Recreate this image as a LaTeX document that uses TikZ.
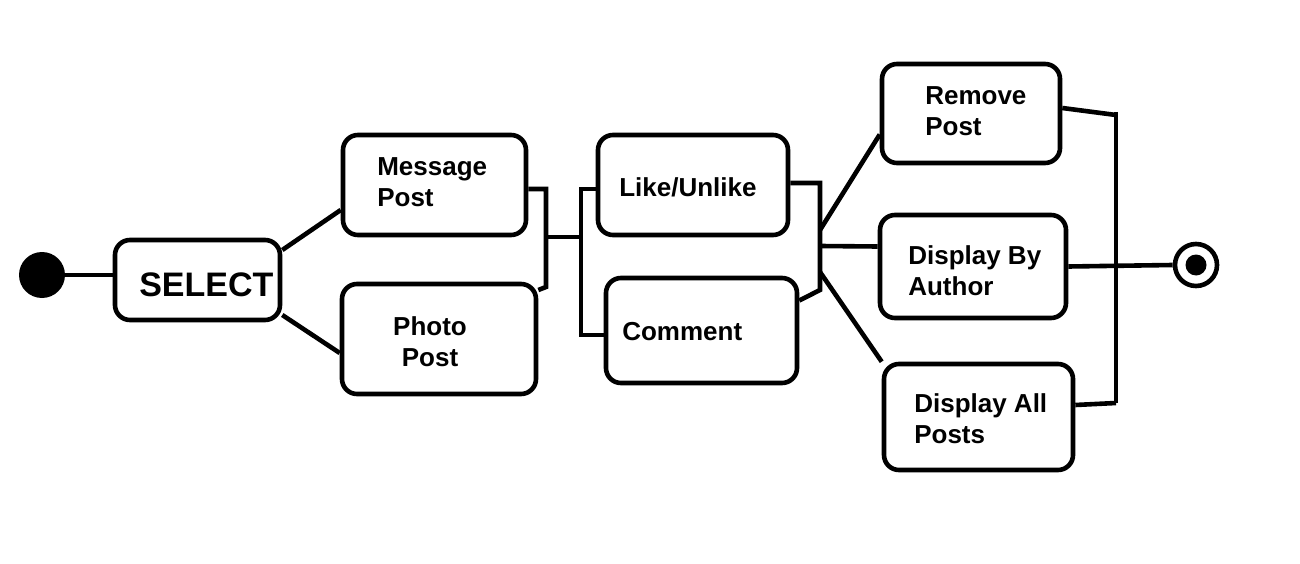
\documentclass[tikz,border=0pt]{standalone}
\usepackage{fontspec}
\setmainfont{Liberation Sans}
\begin{document}
\begin{tikzpicture}[x=1pt,y=-1pt,
  every path/.style={line width=4.6pt},
  box/.style={draw, line width=4.6pt, rounded corners=15pt, inner sep=0pt},
  lbl/.style={font=\fontsize{26}{31}\selectfont\bfseries, inner sep=0pt, align=left},
  conn/.style={draw, line width=4.6pt}]
\useasboundingbox (0,0) rectangle (1300,564);
% states
\node[box, minimum width=165pt, minimum height=80pt] (sel) at (197.5,280) {};
\node[box, minimum width=183pt, minimum height=100pt] (msg) at (434.5,185) {};
\node[box, minimum width=194pt, minimum height=110pt] (pho) at (439,339) {};
\node[box, minimum width=190pt, minimum height=100pt] (like) at (693,185) {};
\node[box, minimum width=191pt, minimum height=105pt] (com) at (701.5,330.5) {};
\node[box, minimum width=178pt, minimum height=99pt] (rem) at (971,113.5) {};
\node[box, minimum width=186pt, minimum height=103pt] (dba) at (973,266.5) {};
\node[box, minimum width=189pt, minimum height=106pt] (dap) at (978.5,417) {};
% labels
\node[lbl, anchor=west, font=\fontsize{34}{40}\selectfont\bfseries] (tsel) at (137,285) {SELECT};
\node[lbl, anchor=west] (tmsg) at (375,182) {Message\\Post};
\node[lbl, align=center] (tpho) at (430,342) {Photo\\Post};
\node[lbl, anchor=west] (tlike) at (617,187) {Like/Unlike};
\node[lbl, anchor=west] (tcom) at (620,332) {Comment};
\node[lbl, anchor=west] (trem) at (923,111) {Remove\\Post};
\node[lbl, anchor=west] (tdba) at (906,271) {Display By\\Author};
\node[lbl, anchor=west] (tdap) at (912,419) {Display All\\Posts};
% initial and final
\node[circle, fill=black, minimum size=46pt, inner sep=0pt] (init) at (42,275) {};
\node[circle, draw, line width=4.6pt, minimum size=42pt, inner sep=0pt] (fin) at (1196,265) {};
\node[circle, fill=black, minimum size=21pt, inner sep=0pt] (finc) at (1196,265) {};
% junction coordinates
\coordinate (j1) at (546,189);
\coordinate (j2) at (546,287);
\coordinate (j3) at (546,237);
\coordinate (j4) at (581,237);
\coordinate (j5) at (581,189);
\coordinate (j6) at (581,335);
\coordinate (k1) at (820,183);
\coordinate (k2) at (820,290);
\coordinate (k3) at (820,230);
\coordinate (k4) at (820,246);
\coordinate (k5) at (820,272);
\coordinate (m1) at (1116,112);
\coordinate (m2) at (1116,403);
\coordinate (m3) at (1116,115);
% connectors
\draw (init.center) -- (init.center -| sel.west);
\draw ([yshift=30pt]sel.east) -- ([yshift=-25pt]msg.west);
\draw ([yshift=-35pt]sel.east) -- ([yshift=-14pt]pho.west);
\draw[line join=miter] ([yshift=-4pt]msg.east) -- (j1) -- (j2) -- ([yshift=49pt]pho.east);
\draw (j3) -- (j4);
\draw[line join=miter] (j5 -| like.west) -- (j5) -- (j6) -- (j6 -| com.west);
\draw[line join=miter] ([yshift=2pt]like.east) -- (k1) -- (k2) -- ([yshift=30pt]com.east);
\draw (k3) -- ([yshift=-21pt]rem.west);
\draw (k4) -- ([yshift=20pt]dba.west);
\draw (k5) -- (dap.north west);
\draw ([yshift=5.5pt]rem.east) -- (m3);
\draw (m1) -- (m2);
\draw ([yshift=12pt]dap.east) -- (m2);
\draw (dba.east) -- (fin.west);
\end{tikzpicture}
\end{document}
